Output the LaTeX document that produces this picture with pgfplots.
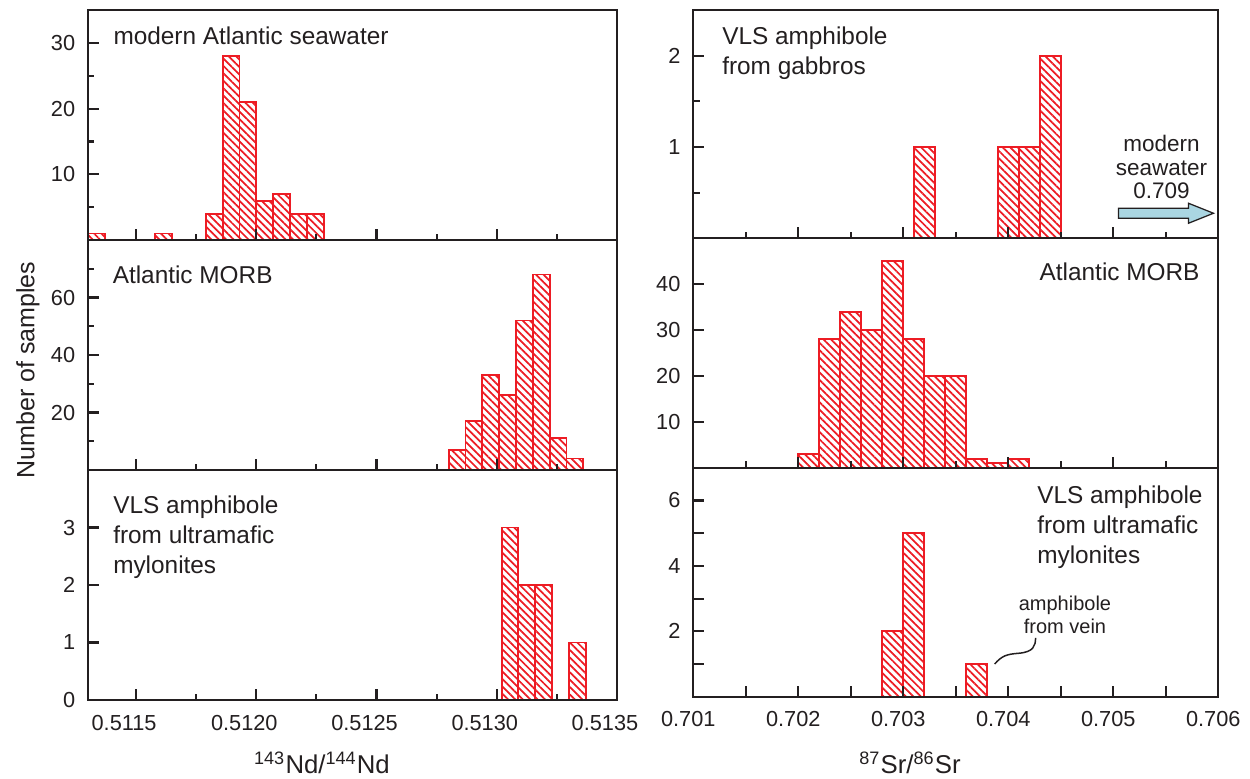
\documentclass[border=0pt]{standalone}
\usepackage{fontspec}
\setmainfont{Liberation Sans}
\usepackage{pgfplots}
\pgfplotsset{compat=1.18}
\usetikzlibrary{patterns.meta}
\definecolor{barred}{RGB}{237,28,36}
\definecolor{axgray}{RGB}{35,31,32}
\definecolor{arrowblue}{RGB}{170,214,226}
\newcommand\lab{\fontsize{9.75}{12}\selectfont}
\pgfplotsset{
  hist/.style={ybar interval, draw=barred, line width=0.75pt,
    pattern={Lines[angle=-45,distance=2.1pt,line width=0.7pt]}, pattern color=barred},
  panel/.style={scale only axis, axis on top,
    axis line style={axgray, line width=0.85pt},
    tick style={axgray, line width=0.85pt},
    tick align=inside, xtick pos=bottom, ytick pos=left,
    major tick length=4.4pt, minor tick length=2.6pt,
    ticklabel style={font=\fontsize{8.7}{10}\selectfont, text=axgray},
    yticklabel style={xshift=-1.6pt},
    /pgf/number format/assume math mode=true,
    scaled ticks=false, ymin=0},
  leftcol/.style={panel, width=211.6pt, height=92pt, xmin=0.5113, xmax=0.5135,
    xtick={0.5115,0.512,0.5125,0.513,0.5135},
    minor xtick={0.51175,0.51225,0.51275,0.51325},
    xticklabel style={xshift=-4.8pt, yshift=-2.4pt}},
  rightcol/.style={panel, width=210pt, xmin=0.701, xmax=0.706,
    xtick={0.701,0.702,0.703,0.704,0.705,0.706},
    minor xtick={0.7015,0.7025,0.7035,0.7045,0.7055},
    xticklabel style={xshift=-2pt, yshift=-2.4pt}},
}
\begin{document}
\begin{tikzpicture}
\path[use as bounding box] (0pt,0pt) rectangle (500pt,-311.2pt);

% ---------- left top
\begin{axis}[leftcol, at={(35.2pt,-4pt)}, anchor=north west, ymax=35,
  ytick={10,20,30}, minor ytick={5,15,25}, xticklabels={}]
\addplot[hist] coordinates {(0.51130,1) (0.51137,0)};
\addplot[hist] coordinates {(0.51158,1) (0.51165,0)};
\addplot[hist] coordinates {(0.51179,4) (0.51186,28) (0.51193,21) (0.51200,6) (0.51207,7) (0.51214,4) (0.51221,4) (0.51228,0)};
\node[anchor=north west, inner sep=0pt, font=\lab, text=axgray, xshift=10pt, yshift=-6.7pt] at (rel axis cs:0,1) {modern Atlantic seawater};
\end{axis}

% ---------- left middle
\begin{axis}[leftcol, at={(35.2pt,-96pt)}, anchor=north west, ymax=80,
  ytick={20,40,60}, minor ytick={10,30,50,70}, xticklabels={}]
\addplot[hist] coordinates {(0.51280,7) (0.51287,17) (0.51294,33) (0.51301,26) (0.51308,52) (0.51315,68) (0.51322,11) (0.51329,4) (0.51336,0)};
\node[anchor=north west, inner sep=0pt, font=\lab, text=axgray, xshift=9.7pt, yshift=-10pt] at (rel axis cs:0,1) {Atlantic MORB};
\end{axis}

% ---------- left bottom
\begin{axis}[leftcol, at={(35.2pt,-188pt)}, anchor=north west, ymax=4,
  ytick={0,1,2,3}, xticklabels={0.5115,0.5120,0.5125,0.5130,0.5135}]
\addplot[hist] coordinates {(0.51302,3) (0.51309,2) (0.51316,2) (0.51323,0)};
\addplot[hist] coordinates {(0.51330,1) (0.51337,0)};
\node[anchor=north west, inner sep=0pt, font=\lab, text=axgray, align=left, xshift=9.9pt, yshift=-10pt] at (rel axis cs:0,1) {VLS amphibole\\from ultramafic\\mylonites};
\end{axis}

% ---------- right top
\begin{axis}[rightcol, height=91.3pt, at={(277.3pt,-4pt)}, anchor=north west, ymax=2.5,
  ytick={1,2}, minor ytick={0.5,1.5}, xticklabels={}]
\addplot[hist] coordinates {(0.7031,1) (0.7033,0)};
\addplot[hist] coordinates {(0.7039,1) (0.7041,1) (0.7043,2) (0.7045,0)};
\node[anchor=north west, inner sep=0pt, font=\lab, text=axgray, align=left, xshift=11.4pt, yshift=-6.7pt] at (rel axis cs:0,1) {VLS amphibole\\from gabbros};
\node[anchor=center, inner sep=0pt, align=center, text=axgray, font=\fontsize{9}{9.5}\selectfont] at (axis cs:0.70546,0.78) {modern\\seawater\\0.709};
\draw[fill=arrowblue, draw=axgray, line width=0.5pt] (axis cs:0.70505,0.274) ++(0pt,2pt) -- ++(28pt,0pt) -- ++(0pt,2pt) -- ++(10pt,-4pt) -- ++(-10pt,-4pt) -- ++(0pt,2pt) -- ++(-28pt,0pt) -- cycle;
\end{axis}

% ---------- right middle
\begin{axis}[rightcol, height=91.8pt, at={(277.3pt,-95.3pt)}, anchor=north west, ymax=50,
  ytick={10,20,30,40}, xticklabels={}]
\addplot[hist] coordinates {(0.7020,3) (0.7022,28) (0.7024,34) (0.7026,30) (0.7028,45) (0.7030,28) (0.7032,20) (0.7034,20) (0.7036,2) (0.7038,1) (0.7040,2) (0.7042,0)};
\node[anchor=north east, inner sep=0pt, font=\lab, text=axgray, xshift=-7.3pt, yshift=-9.5pt] at (rel axis cs:1,1) {Atlantic MORB};
\end{axis}

% ---------- right bottom
\begin{axis}[rightcol, height=91.6pt, at={(277.3pt,-187.1pt)}, anchor=north west, ymax=7,
  ytick={2,4,6}, minor ytick={1,3,5}, minor tick length=4.4pt,
  xticklabels={0.701,0.702,0.703,0.704,0.705,0.706}]
\addplot[hist] coordinates {(0.7028,2) (0.7030,5) (0.7032,0)};
\addplot[hist] coordinates {(0.7036,1) (0.7038,0)};
\node[anchor=north west, inner sep=0pt, font=\lab, text=axgray, align=left, xshift=137.4pt, yshift=-7pt] at (rel axis cs:0,1) {VLS amphibole\\from ultramafic\\mylonites};
\node[anchor=north, inner sep=0pt, align=center, text=axgray, font=\fontsize{8}{9.3}\selectfont] at (axis cs:0.70454,3.11) {amphibole\\from vein};
\draw[axgray, line width=0.6pt] (axis cs:0.70387,1.0) .. controls (axis cs:0.70394,1.25) and (axis cs:0.70398,1.3) .. (axis cs:0.70410,1.33) .. controls (axis cs:0.70424,1.37) and (axis cs:0.70426,1.55) .. (axis cs:0.70426,1.8);
\end{axis}

% ---------- axis labels
\node[anchor=base, inner sep=0pt, font=\fontsize{10.3}{12}\selectfont, text=axgray] at (128.8pt,-309.3pt) {\textsuperscript{143}Nd/\textsuperscript{144}Nd};
\node[anchor=base, inner sep=0pt, font=\fontsize{10.3}{12}\selectfont, text=axgray] at (364pt,-309.3pt) {\textsuperscript{87}Sr/\textsuperscript{86}Sr};
\node[font=\fontsize{10}{12}\selectfont, text=axgray, rotate=90] at (11.2pt,-148pt) {Number of samples};
\end{tikzpicture}
\end{document}
